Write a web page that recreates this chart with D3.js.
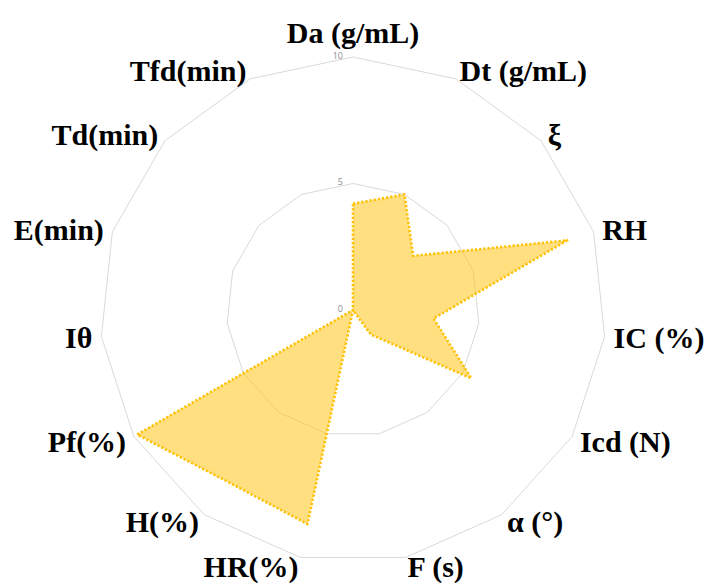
<!DOCTYPE html>
<html>
<head>
<meta charset="utf-8">
<script src="https://cdn.jsdelivr.net/npm/d3@7"></script>
<style>
    html, body { margin: 0; padding: 0; background: #fff; }
    svg { display: block; }
</style>
</head>
<body>
<div id="chart"></div>
<script>
const WIDTH = 711;
const HEIGHT = 583;

// axes, clockwise from the top
const categories = ["Da (g/mL)", "Dt (g/mL)", "ξ", "RH", "IC (%)", "Icd (N)", "α (°)", "F (s)",
    "HR(%)", "H(%)", "Pf(%)", "Iθ", "E(min)", "Td(min)", "Tfd(min)"];
const values = [4.2, 5.0, 3.2, 8.9, 3.2, 5.4, 1.2, 0, 8.65, 8.4, 9.85, 0, 0, 0, 0];
const ticks = [0, 5, 10];

const cx = 353, cy = 310;
const radius = 253;
const labelRadius = 262;

const svg = d3.select("#chart").append("svg")
    .attr("width", WIDTH)
    .attr("height", HEIGHT);

const r = d3.scaleLinear()
    .domain([0, 10])
    .range([0, radius]);

const angle = d3.scalePoint()
    .domain(categories)
    .range([0, 2 * Math.PI * (categories.length - 1) / categories.length]);

const g = svg.append("g")
    .attr("transform", "translate(" + cx + "," + cy + ")");

// grid rings (no spokes, like excel's default)
const ring = d3.lineRadial()
    .angle(d => angle(d))
    .radius(0)
    .curve(d3.curveLinearClosed);

g.selectAll(".ring")
    .data(ticks.filter(t => t > 0))
    .enter().append("path")
    .attr("class", "ring")
    .attr("d", t => ring.radius(r(t))(categories))
    .style("fill", "none")
    .style("stroke", "#d9d9d9")
    .style("stroke-width", 1);

g.selectAll(".tick")
    .data(ticks)
    .enter().append("text")
    .attr("class", "tick")
    .attr("x", -10)
    .attr("y", t => -r(t) - 1)
    .attr("dy", "0.3em")
    .attr("text-anchor", "end")
    .style("font-family", "'Open Sans', 'Liberation Sans', sans-serif")
    .style("font-size", "9px")
    .style("fill", "#8c8c8c")
    .text(t => t);

// the data area
const area = d3.lineRadial()
    .angle((d, i) => angle(categories[i]))
    .radius(d => r(d))
    .curve(d3.curveLinearClosed);

g.append("path")
    .datum(values)
    .attr("d", area)
    .style("fill", "#FFC000")
    .style("fill-opacity", 0.5)
    .style("stroke", "#FFC000")
    .style("stroke-width", 2.6)
    .style("stroke-dasharray", "2.2,2")
    .style("stroke-linejoin", "round");

// axis labels
g.selectAll(".label")
    .data(categories)
    .enter().append("text")
    .attr("class", "label")
    .attr("x", d => labelRadius * Math.sin(angle(d)))
    .attr("y", d => -labelRadius * Math.cos(angle(d)))
    .attr("dy", d => angle(d) === 0 ? "-0.18em" : "0.35em")
    .attr("text-anchor", d => {
        let s = Math.sin(angle(d));
        return Math.abs(s) < 1e-6 ? "middle" : (s > 0 ? "start" : "end");
    })
    .style("font-family", "'Liberation Serif', 'Times New Roman', serif")
    .style("font-weight", "bold")
    .style("font-size", "30px")
    .style("fill", "#000")
    .text(d => d);
</script>
</body>
</html>
